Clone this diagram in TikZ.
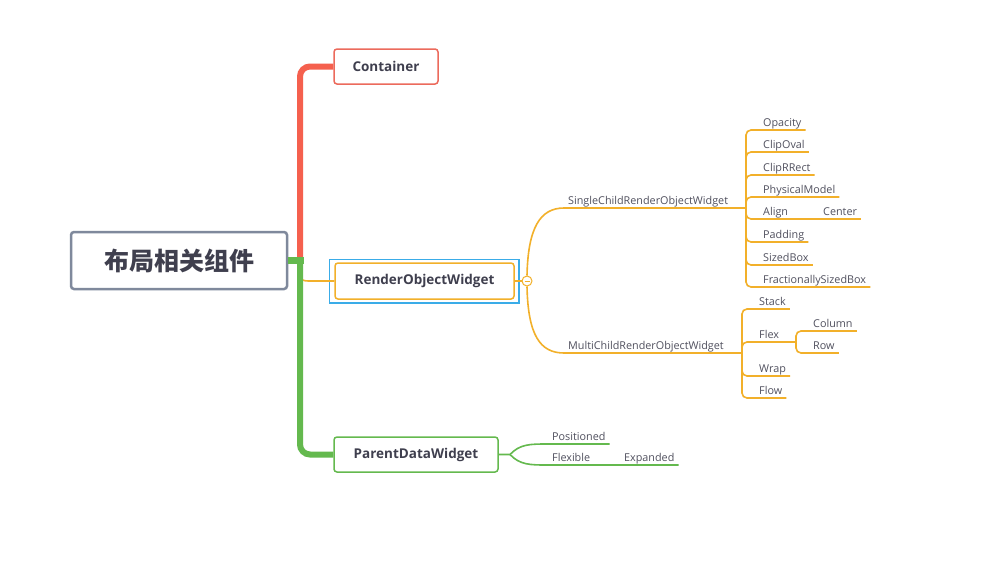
\documentclass[tikz,border=0pt]{standalone}
\usepackage{fontspec}
\setmainfont{Open Sans}
\newfontfamily\cjk{Noto Sans CJK SC}
\definecolor{redline}{HTML}{F5604E}
\definecolor{redbox}{HTML}{EC6A5C}
\definecolor{greenline}{HTML}{64B94E}
\definecolor{orangeline}{HTML}{F2B02A}
\definecolor{selblue}{HTML}{3AACE8}
\definecolor{rootgray}{HTML}{7F899C}
\definecolor{textdark}{HTML}{3F3F4E}
\definecolor{leaftext}{HTML}{50505E}
\begin{document}
\begin{tikzpicture}[x=1pt,y=-1pt,
  box/.style={draw, rounded corners=3, line width=1.5, fill=white, minimum height=35, inner sep=0, font=\bfseries\fontsize{13.5}{15}\selectfont, text=textdark},
  leaf/.style={anchor=south west, inner xsep=4, inner ysep=3, text height=8, text depth=0, font=\fontsize{10.8}{12}\selectfont, text=leaftext},
  obranch/.style={draw=orangeline, line width=1.6, rounded corners=5},
  gbranch/.style={draw=greenline, line width=1.6}]
  \useasboundingbox[fill=white] (0,0) rectangle (983,565);
  \node[box, draw=rootgray, line width=2.5, minimum width=216, minimum height=57, font=\cjk\bfseries\fontsize{25}{30}\selectfont] (root) at (179,260.5) {布局相关组件};
  \node[box, draw=redbox, minimum width=104] (ct) at (386,66.5) {Container};
  \node[box, draw=orangeline, minimum width=179, minimum height=36] (ro) at (424.5,281) {RenderObjectWidget};
  \node[box, draw=greenline, minimum width=164] (pd) at (416,454.5) {ParentDataWidget};
  \draw[selblue, line width=1.5] ([shift={(-5,-3)}]ro.north west) rectangle ([shift={(4,3)}]ro.south east);

  \coordinate (trunk) at (300,260.5);
  \coordinate (oj) at (300,272);
  \draw[obranch, rounded corners=0] (oj) .. controls (301,281) .. (312,281) -- (ro.west);
  \draw[redline, line width=6, rounded corners=10] (trunk) |- (ct.west);
  \draw[greenline, line width=6, rounded corners=10] (trunk) |- (pd.west);
  \draw[greenline, line width=7] (root.east) -- ([xshift=3.5]trunk);

  \node[circle, draw=orangeline, fill=white, line width=1, minimum size=10, inner sep=0] (dot) at (527,281) {};
  \draw[orangeline, line width=1] ([xshift=-2.5]dot.center) -- ([xshift=2.5]dot.center);
  \draw[obranch] (ro.east) -- (dot.west);

  \node[leaf] (sc) at (564,208) {SingleChildRenderObjectWidget};
  \coordinate (sj) at (746,208);
  \draw[obranch, rounded corners=0] (dot.north) .. controls (528,228) and (540,208) .. (sc.south west) -- (sj);
  \foreach \i/\lab/\y in {1/Opacity/130,2/ClipOval/152,3/ClipRRect/175,4/PhysicalModel/197,5/Align/219,6/Padding/242,7/SizedBox/265,8/FractionallySizedBox/287} {
    \node[leaf] (s\i) at (759,\y) {\lab};
    \draw[obranch] (sj) |- (s\i.south east);
  }
  \node[leaf] (ce) at (819,219) {Center};
  \draw[obranch] (s5.south east) -- (ce.south east);

  \node[leaf] (mc) at (564,353) {MultiChildRenderObjectWidget};
  \coordinate (mj) at (742,353);
  \draw[obranch, rounded corners=0] (dot.south) .. controls (528,335) and (540,353) .. (mc.south west) -- (mj);
  \foreach \i/\lab/\y in {1/Stack/309,2/Flex/342,3/Wrap/376,4/Flow/398} {
    \node[leaf] (m\i) at (755,\y) {\lab};
    \draw[obranch] (mj) |- (m\i.south east);
  }
  \coordinate (fj) at (796,342);
  \draw[obranch] (m2.south east) -- (fj);
  \foreach \i/\lab/\y in {1/Column/331,2/Row/353} {
    \node[leaf] (f\i) at (809,\y) {\lab};
    \draw[obranch] (fj) |- (f\i.south east);
  }

  \coordinate (pj) at (510,454.5);
  \node[leaf] (p1) at (548,444) {Positioned};
  \node[leaf] (p2) at (548,465) {Flexible};
  \node[leaf] (p3) at (620,465) {Expanded};
  \draw[gbranch] (pd.east) -- (pj) .. controls (520,444) and (530,444) .. (p1.south west) -- (p1.south east);
  \draw[gbranch] (pj) .. controls (520,465) and (530,465) .. (p2.south west) -- (p3.south east);
\end{tikzpicture}
\end{document}
